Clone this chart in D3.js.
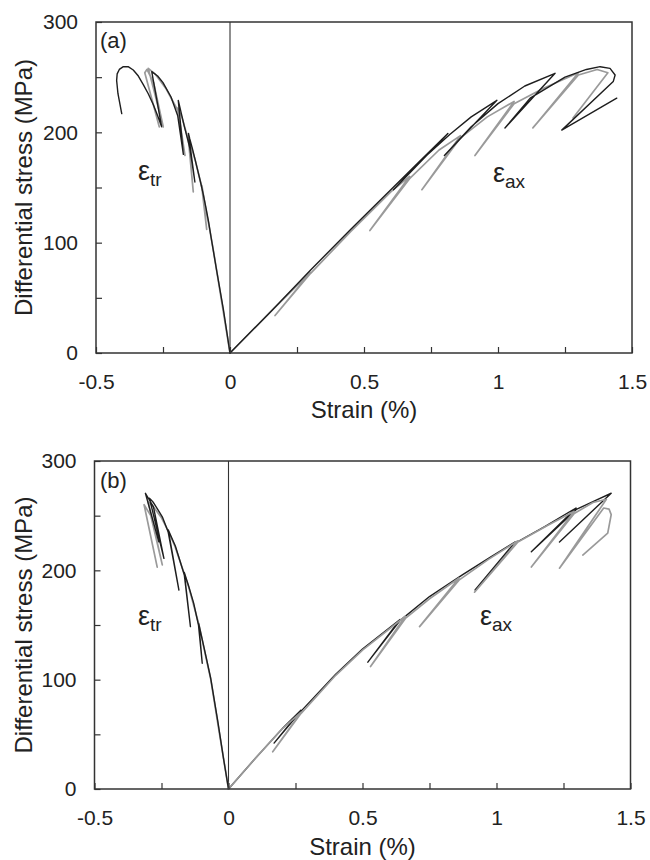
<!DOCTYPE html>
<html>
<head>
<meta charset="utf-8">
<script src="https://cdn.jsdelivr.net/npm/d3@7"></script>
<style>
  html, body { margin: 0; padding: 0; background: #fff; }
  svg { display: block; }
  text { font-family: "Liberation Sans", Arial, sans-serif; fill: #222; }
</style>
</head>
<body>
<svg id="chart" width="650" height="860"></svg>
<script>
// ---------------- DATA ----------------
const xTickValues = [-0.5, -0.25, 0, 0.25, 0.5, 0.75, 1, 1.25, 1.5];
const xTickLabels = ["-0.5", "", "0", "", "0.5", "", "1", "", "1.5"];
const yTickValues = [0, 50, 100, 150, 200, 250, 300];
const yTickLabels = ["0", "", "100", "", "200", "", "300"];
const panelLabels = ["(a)", "(b)"];
const xTitle = "Strain (%)";
const yTitle = "Differential stress (MPa)";

// Panel (a) — [strain %, stress MPa]
const aAxialBlack = [[0,0],[0.15,37],[0.3,75],[0.45,112],[0.6,148],[0.7,172],[0.813,199],
  [0.61,148],[0.72,176],[0.82,198],[0.9,214],[0.996,229],
  [0.80,179],[0.9,205],[1.0,226],[1.1,242],[1.213,253.5],
  [1.026,204],[1.12,231],[1.25,250],[1.33,257],[1.381,259.5],[1.418,258],[1.437,252],[1.43,246],
  [1.238,202],[1.443,231]];
const aAxialGray = [[0,0],[0.15,37],[0.3,73],[0.168,34],[0.3,72],[0.45,110],[0.6,146],[0.67,160],
  [0.522,111],[0.67,158],[0.78,184],[0.86,197],
  [0.716,148],[0.86,195],[0.96,214],[1.06,228],
  [0.914,179],[1.06,226],[1.17,240],[1.30,254],
  [1.13,204],[1.30,252],[1.37,257],[1.41,254],[1.28,213]];
const aTransBlack = [[0,0],[-0.025,40],[-0.05,75],[-0.07,104],[-0.08,119],[-0.09,132],[-0.1,144],[-0.11,155],
  [-0.12,165],[-0.13,175],[-0.14,185],[-0.15,194],[-0.155,199],
  [-0.131,155],[-0.15,186],[-0.17,205],[-0.193,229],
  [-0.174,180],[-0.195,215],[-0.22,232],[-0.25,245],[-0.27,251],[-0.292,255],
  [-0.255,205],[-0.27,215],[-0.286,225],[-0.305,235],[-0.323,243],[-0.342,251],[-0.361,256.5],
  [-0.38,259.5],[-0.398,259.5],[-0.413,257],[-0.421,253],[-0.423,247],[-0.418,235],[-0.404,217]];
const aTransGray = [[0,0],[-0.03,45],[-0.06,90],[-0.075,111],[-0.09,130],[-0.105,152],
  [-0.087,112],[-0.105,150],[-0.13,175],[-0.155,195],
  [-0.137,146],[-0.155,193],[-0.18,214],[-0.195,222],
  [-0.168,179],[-0.195,220],[-0.24,240],[-0.28,253],[-0.305,258],
  [-0.249,205],[-0.285,245],[-0.31,257],[-0.318,254],[-0.264,205]];

// Panel (b)
const bAxialBlack = [[0,0],[0.1,28],[0.2,55],[0.27,72],[0.17,42],[0.27,71],[0.4,105],[0.5,128],[0.64,155],
  [0.52,116],[0.64,154],[0.75,176],[0.874,196],[0.97,211],[1.07,226],
  [0.92,182],[1.07,225],[1.18,240],[1.297,257],
  [1.13,217],[1.3,256],[1.37,264],[1.428,270.5],[1.235,226]];
const bAxialGray = [[0,0],[0.1,28],[0.2,55],[0.27,70],[0.165,34],[0.27,69],[0.4,104],[0.5,127],[0.66,158],
  [0.53,112],[0.66,156],[0.75,174],[0.86,193],
  [0.713,148.5],[0.86,191],[0.97,210],[1.08,227],
  [0.918,180],[1.08,226],[1.19,241],[1.29,254],
  [1.13,203],[1.29,252],[1.36,262],[1.41,265],
  [1.235,202],[1.40,257],[1.42,256],[1.428,251],[1.415,234],[1.322,214]];
const bTransBlack = [[0,0],[-0.02,30],[-0.04,62],[-0.067,102],[-0.09,128],[-0.111,151],
  [-0.098,115],[-0.112,150],[-0.13,170],[-0.148,185],[-0.165,198],
  [-0.142,148.5],[-0.165,196],[-0.198,222],[-0.225,237],
  [-0.185,182],[-0.225,235],[-0.247,249],[-0.28,262],[-0.295,266],
  [-0.241,211],[-0.28,258],[-0.31,270.5],[-0.26,226]];
const bTransGray = [[0,0],[-0.02,30],[-0.04,60],[-0.066,100],[-0.09,127],[-0.11,150],[-0.13,168],
  [-0.15,186],[-0.175,204],[-0.2,222],[-0.225,236],[-0.25,248],[-0.28,258],[-0.30,263],
  [-0.247,205],[-0.29,250],[-0.315,260],[-0.266,203]];

const GRAY = "#9a9a9a", BLACK = "#1e1e1e";
const panels = [
  { label: panelLabels[0],
    series: [[aTransGray, GRAY], [aAxialGray, GRAY], [aTransBlack, BLACK], [aAxialBlack, BLACK]],
    box: { left: 96, right: 632, top: 22, bottom: 353 },
    titleBaseline: 418, labelPos: [100, 48],
    eTr: [138, 180], eAx: [493, 182] },
  { label: panelLabels[1],
    series: [[bTransGray, GRAY], [bAxialBlack, BLACK], [bTransBlack, BLACK], [bAxialGray, GRAY]],
    box: { left: 94.5, right: 630.5, top: 461, bottom: 789 },
    titleBaseline: 855, labelPos: [100, 488],
    eTr: [138, 625], eAx: [480, 625] }
];

// ---------------- DRAW ----------------
const svg = d3.select("#chart");

panels.forEach(p => {
  const b = p.box;
  const x = d3.scaleLinear().domain([-0.5, 1.5]).range([b.left, b.right]);
  const y = d3.scaleLinear().domain([0, 300]).range([b.bottom, b.top]);
  const g = svg.append("g");

  // zero line
  g.append("line")
    .attr("x1", x(0)).attr("x2", x(0)).attr("y1", y(0)).attr("y2", y(300))
    .attr("stroke", "#333").attr("stroke-width", 1.1);

  const line = d3.line().x(d => x(d[0])).y(d => y(d[1]));

  p.series.forEach(([s, c]) => g.append("path").datum(s).attr("d", line)
    .attr("fill", "none").attr("stroke", c).attr("stroke-width", c === GRAY ? 1.7 : 1.4)
    .attr("stroke-linejoin", "round").attr("stroke-linecap", "round"));

  // axes (ticks inside)
  const xAxis = d3.axisBottom(x).tickValues(xTickValues)
    .tickFormat((d, i) => xTickLabels[i]).tickSizeInner(-6).tickSizeOuter(0).tickPadding(21);
  const yAxis = d3.axisLeft(y).tickValues(yTickValues)
    .tickFormat((d, i) => yTickLabels[i]).tickSizeInner(-6).tickSizeOuter(0).tickPadding(18);

  const gx = g.append("g").attr("transform", `translate(0,${b.bottom})`).call(xAxis);
  const gy = g.append("g").attr("transform", `translate(${b.left},0)`).call(yAxis);
  [gx, gy].forEach(ax => {
    ax.select(".domain").remove();
    ax.selectAll(".tick line").attr("stroke", "#333").attr("stroke-width", 1.2);
    ax.selectAll(".tick text").attr("font-size", 21).attr("fill", "#222")
      .style("font-family", '"Liberation Sans", Arial, sans-serif');
  });

  // frame
  g.append("rect").attr("x", b.left).attr("y", b.top)
    .attr("width", b.right - b.left).attr("height", b.bottom - b.top)
    .attr("fill", "none").attr("stroke", "#333").attr("stroke-width", 1.5);

  // titles
  g.append("text").attr("x", (b.left + b.right) / 2).attr("y", p.titleBaseline)
    .attr("text-anchor", "middle").attr("font-size", 24).text(xTitle);
  g.append("text")
    .attr("transform", `translate(32,${(b.top + b.bottom) / 2}) rotate(-90)`)
    .attr("text-anchor", "middle").attr("font-size", 24).text(yTitle);

  // panel label
  g.append("text").attr("x", p.labelPos[0]).attr("y", p.labelPos[1])
    .attr("font-size", 22).text(p.label);

  // epsilon labels
  [[p.eTr, "tr"], [p.eAx, "ax"]].forEach(([pos, sub]) => {
    const t = g.append("text").attr("x", pos[0]).attr("y", pos[1]);
    t.append("tspan").attr("font-size", 27).text("ε");
    t.append("tspan").attr("font-size", 19).attr("dy", 6).text(sub);
  });
});
</script>
</body>
</html>
